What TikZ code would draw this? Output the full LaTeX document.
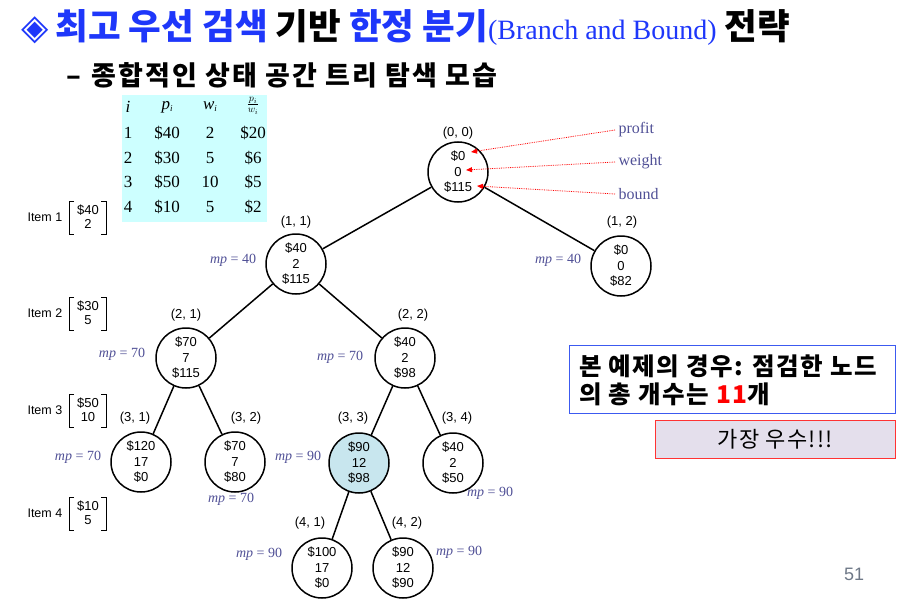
\documentclass[tikz,border=0pt]{standalone}
\usepackage{fontspec}
\setmainfont{Liberation Serif}
\setsansfont{Liberation Sans}
\newfontfamily\kr{Noto Sans CJK KR}
\newfontfamily\krw[LetterSpace=6]{Noto Sans CJK KR}
\newfontfamily\krs[LetterSpace=8]{Noto Sans CJK KR}
\newfontfamily\sym{DejaVu Sans}
\usetikzlibrary{arrows.meta}
\definecolor{tblue}{RGB}{30,55,250}
\definecolor{mpcol}{RGB}{80,80,150}
\definecolor{tcyan}{RGB}{205,255,255}
\definecolor{hl}{RGB}{200,230,238}
\definecolor{lav}{RGB}{228,223,236}
\definecolor{boxblue}{RGB}{60,90,240}
\definecolor{pgray}{RGB}{110,120,135}
\begin{document}
\begin{tikzpicture}[x=1pt,y=-1pt,
  st/.style={circle, draw, line width=1.5pt, minimum size=60pt, inner sep=0pt,
    font=\sffamily\fontsize{13}{15.5}\selectfont, align=center},
  lab/.style={font=\sffamily\fontsize{13}{15}\selectfont},
  mpl/.style={font=\fontsize{14}{16}\selectfont, text=mpcol},
  edg/.style={line width=1.5pt},
  pw/.style={font=\fontsize{16}{18}\selectfont, text=mpcol, anchor=west},
  ptr/.style={red, densely dotted, line width=0.8pt, -{Triangle[length=6pt,width=5pt]}},
  tb/.style={font=\fontsize{17}{19}\selectfont},
  item/.style={font=\sffamily\fontsize{12.5}{14}\selectfont},
  brk/.style={line width=0.9pt},
]
\useasboundingbox (0,0) rectangle (909,599);

% title
\node[anchor=west, inner sep=0pt] (title) at (21,27)
  {\kr\bfseries\fontsize{35.5}{37}\selectfont{\sym\color{tblue}◈}\hspace{7pt}{\color{tblue}최고 우선 검색} 기반 {\color{tblue}한정 분기}{\rmfamily\mdseries\fontsize{28}{30}\selectfont\color{tblue}(Branch and Bound)} 전략};
\node[anchor=west, inner sep=0pt] (sub) at (66,75)
  {\krs\bfseries\fontsize{27}{29}\selectfont –\hspace{10pt}종합적인 상태 공간 트리 탐색 모습};

% table
\node[fill=tcyan, minimum width=145pt, minimum height=127pt, inner sep=0pt] (tbl) at (194.5,158.5) {};
\node[tb] (h1) at (128,107) {\itshape i};
\node[tb] (h2) at (167,107) {\itshape p\raisebox{-2pt}{\fontsize{9}{9}\selectfont i}};
\node[tb] (h3) at (210,107) {\itshape w\raisebox{-2pt}{\fontsize{9}{9}\selectfont i}};
\node[font=\fontsize{14}{14}\selectfont\itshape, inner sep=0pt] (h4) at (253,106)
  {$\frac{p_i}{w_i}$};
\foreach \r/\a/\b/\c/\d in {1/1/\$40/2/\$20, 2/2/\$30/5/\$6, 3/3/\$50/10/\$5, 4/4/\$10/5/\$2}{
  \pgfmathsetmacro{\yy}{108+\r*24.8}
  \node[tb] (ta\r) at (128,\yy) {\a};
  \node[tb] (tb\r) at (167,\yy) {\b};
  \node[tb] (tc\r) at (210,\yy) {\c};
  \node[tb] (td\r) at (253,\yy) {\d};
}

% items
\foreach \n/\y/\p/\w in {1/217/\$40/2, 2/313/\$30/5, 3/410/\$50/10, 4/513/\$10/5}{
  \node[item, anchor=west] (it\n) at (24,\y) {Item \n};
  \node[item, font=\sffamily\fontsize{13}{14}\selectfont, align=center, inner sep=0pt] (iv\n) at (88,\y) {\p\\[0pt]\w};
  \draw[brk] ([shift={(-14,-16)}]iv\n.center) -- ++(-5,0) -- ++(0,33) -- ++(5,0);
  \draw[brk] ([shift={(13,-16)}]iv\n.center) -- ++(5,0) -- ++(0,33) -- ++(-5,0);
}

% nodes
\node[st] (n00) at (458,172) {\$0\\0\\\$115};
\node[st] (n11) at (296,264) {\$40\\2\\\$115};
\node[st] (n12) at (621,266) {\$0\\0\\\$82};
\node[st] (n21) at (186,358) {\$70\\7\\\$115};
\node[st] (n22) at (405,358) {\$40\\2\\\$98};
\node[st] (n31) at (141,462) {\$120\\17\\\$0};
\node[st] (n32) at (235,462) {\$70\\7\\\$80};
\node[st, fill=hl] (n33) at (359,463) {\$90\\12\\\$98};
\node[st] (n34) at (453,463) {\$40\\2\\\$50};
\node[st] (n41) at (322,568) {\$100\\17\\\$0};
\node[st] (n42) at (403,568) {\$90\\12\\\$90};

% node labels
\node[lab] (l00) at (458,133) {(0, 0)};
\node[lab] (l11) at (296,222) {(1, 1)};
\node[lab] (l12) at (622,222) {(1, 2)};
\node[lab] (l21) at (186,315) {(2, 1)};
\node[lab] (l22) at (413,315) {(2, 2)};
\node[lab] (l31) at (135,418) {(3, 1)};
\node[lab] (l32) at (246,418) {(3, 2)};
\node[lab] (l33) at (353,418) {(3, 3)};
\node[lab] (l34) at (457,418) {(3, 4)};
\node[lab] (l41) at (310,523) {(4, 1)};
\node[lab] (l42) at (407,523) {(4, 2)};

% mp labels
\node[mpl] (m11) at (233,260) {\itshape mp\upshape{} = 40};
\node[mpl] (m12) at (558,260) {\itshape mp\upshape{} = 40};
\node[mpl] (m21) at (122,354) {\itshape mp\upshape{} = 70};
\node[mpl] (m22) at (340,357) {\itshape mp\upshape{} = 70};
\node[mpl] (m31) at (78,457) {\itshape mp\upshape{} = 70};
\node[mpl] (m32) at (231,499) {\itshape mp\upshape{} = 70};
\node[mpl] (m33) at (298,457) {\itshape mp\upshape{} = 90};
\node[mpl] (m34) at (490,493) {\itshape mp\upshape{} = 90};
\node[mpl] (m41) at (259,554) {\itshape mp\upshape{} = 90};
\node[mpl] (m42) at (459,552) {\itshape mp\upshape{} = 90};

% edges
\draw[edg] (n00) -- (n11);
\draw[edg] (n00) -- (n12);
\draw[edg] (n11) -- (n21);
\draw[edg] (n11) -- (n22);
\draw[edg] (n21) -- (n31);
\draw[edg] (n21) -- (n32);
\draw[edg] (n22) -- (n33);
\draw[edg] (n22) -- (n34);
\draw[edg] (n33) -- (n41);
\draw[edg] (n33) -- (n42);

% pointer labels
\node[pw] (pr) at (615,130) {profit};
\node[pw] (wt) at (615,162) {weight};
\node[pw] (bd) at (615,194) {bound};
\coordinate (cp) at (471,152);
\coordinate (cw) at (466,170);
\coordinate (cb) at (477,186);
\draw[ptr] (pr.west) -- (cp);
\draw[ptr] (wt.west) -- (cw);
\draw[ptr] (bd.west) -- (cb);

% boxes
\node[draw=boxblue, line width=1pt, minimum width=326pt, minimum height=68pt, inner sep=0pt] (box1) at (732,379) {};
\node[anchor=west, align=left, inner sep=0pt, font=\krw\bfseries\fontsize{24.5}{28}\selectfont] (box1t) at (579,380)
  {본 예제의 경우: 점검한 노드\\의 총 개수는 {\color{red}11}개};
\node[draw=red!80, fill=lav, line width=1pt, minimum width=240pt, minimum height=38pt, inner sep=0pt, font=\krw\fontsize{22}{24}\selectfont] (box2) at (775,439)
  {가장 우수!!!};

\node[font=\sffamily\fontsize{18}{20}\selectfont, text=pgray] (pg) at (854,574) {51};
\end{tikzpicture}
\end{document}
